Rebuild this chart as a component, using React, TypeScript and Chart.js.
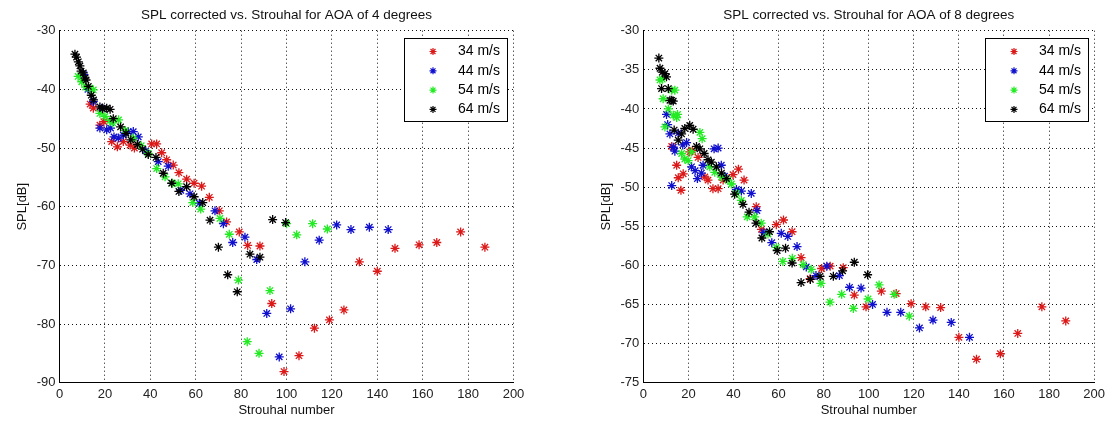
import React, { useEffect, useRef } from 'react';
import { Chart, registerables } from 'chart.js';

Chart.register(...registerables);

// ---------- labels ----------
const seriesLabels = ['34 m/s', '44 m/s', '54 m/s', '64 m/s'];
const seriesColors = ['rgb(220,25,25)', 'rgb(15,15,205)', 'rgb(35,235,35)', 'rgb(0,0,0)'];
const xLabel = 'Strouhal number';
const yLabel = 'SPL[dB]';
const title4 = 'SPL corrected vs. Strouhal for AOA of 4 degrees';
const title8 = 'SPL corrected vs. Strouhal for AOA of 8 degrees';

// ---------- AOA 4 degrees ----------
const a4_34x = [13.5, 14.9, 17.8, 19.5, 23, 25.5, 28.1, 31.1, 33, 40.6, 42.8, 45, 47.2, 50.1, 52.6, 56, 59.3, 62.6, 66, 70.4, 73.6, 79.2, 82.9, 88.3, 93.5, 98.9, 105.5, 112.3, 118.9, 125.3, 132.1, 140, 147.8, 158.4, 166.2, 176.7, 187.4];
const a4_34y = [-42.5, -43.2, -46.1, -45.5, -48.9, -49.8, -48.9, -49.5, -50, -49.3, -49.3, -50.8, -52, -52.9, -54.2, -55.3, -56, -56.5, -58.4, -60.7, -62.6, -64.3, -66.6, -66.7, -76.5, -88.1, -85.4, -80.7, -79.3, -77.6, -69.4, -71, -67.1, -66.5, -66.1, -64.3, -66.9];

const a4_44x = [10.8, 12.5, 14.9, 17.8, 18.6, 20.8, 22.5, 24, 25.9, 28.1, 30.3, 32.5, 34.7, 38, 43.5, 47.9, 53.4, 57.5, 61.6, 68.5, 72.2, 76.3, 81.7, 86.9, 91.3, 96.8, 101.8, 108.1, 114.4, 122.1, 128.4, 136.5, 144.8];
const a4_44y = [-37.5, -40, -42.1, -46.6, -43.2, -46.9, -46.6, -48.1, -48.3, -47.8, -47.2, -47.2, -48.1, -50.5, -52.3, -53.1, -57.2, -57.8, -59.4, -60.7, -62.9, -66.1, -65.2, -69, -78.2, -85.6, -77.4, -69.4, -65.7, -63.1, -63.9, -63.5, -63.9];

const a4_54x = [8.2, 9.8, 11.5, 13.4, 14.9, 17.8, 20, 22.2, 23.4, 26, 29, 32.5, 36, 39.1, 42.8, 46.5, 49.8, 52.3, 58.7, 62.2, 70.7, 74.8, 78.8, 82.7, 87.9, 92.7, 100, 104.5, 111.5, 118];
const a4_54y = [-37.8, -38.7, -39.6, -39.8, -40.1, -44.1, -44.6, -45.3, -45.7, -45.2, -47, -48.3, -49.6, -50.9, -53.5, -54.9, -56, -56.1, -59.3, -60.4, -62, -64.7, -72.5, -83, -85, -74.3, -62.9, -64.8, -62.9, -63.8];

const a4_64x = [6.8, 7.5, 8.3, 9, 9.5, 10.5, 11.2, 11.7, 12.7, 14, 15, 17.8, 19, 20.8, 22.3, 23.7, 26.9, 29.3, 31.4, 34.3, 36.6, 39.1, 42.5, 45.7, 49.4, 52.6, 56, 59.3, 63.1, 66.3, 70, 74.1, 78.3, 83.9, 88.3, 93.9, 99.6];
const a4_64y = [-34, -34.5, -35.3, -36, -36.9, -37.2, -38.1, -38.4, -39.5, -41, -41.8, -43, -43.3, -43.2, -43.4, -45, -46.4, -47.5, -48.6, -49.4, -50.2, -51.1, -51.6, -54.3, -56, -57.4, -56.6, -58.3, -59.3, -62.3, -66.9, -71.6, -74.5, -68.1, -68.6, -62.2, -62.7];

// ---------- AOA 8 degrees ----------
const a8_34x = [12.6, 14.8, 15.5, 16.7, 17.7, 20.6, 21.8, 24.3, 27.3, 28.7, 30.9, 33.2, 35.4, 39.8, 42.2, 44.7, 50.1, 52.4, 59, 62.2, 66, 70, 74, 79.1, 82.9, 88.7, 93.6, 98.8, 105.6, 112.2, 118.8, 125.3, 131.9, 140, 147.8, 158.4, 166.1, 176.8, 187.4];
const a8_34y = [-44.8, -47.2, -48.8, -50.4, -48.3, -45.5, -45.3, -46.2, -48.7, -49.1, -50.2, -50.2, -49.1, -48.4, -47.7, -49.1, -52.5, -55.4, -54.8, -54.2, -55.7, -59, -61.7, -60.4, -60.1, -60.3, -63.8, -65.3, -63.3, -63.6, -64.9, -65.3, -65.4, -69.2, -72, -71.3, -68.7, -65.3, -67.1];

const a8_44x = [10.3, 10.8, 11.8, 12.6, 13.3, 14, 15.5, 17.5, 19.2, 21.4, 23, 24, 25.8, 26.5, 31.4, 33.2, 34.6, 36, 41.3, 43.5, 47.9, 50.4, 53.5, 57, 61.2, 64.1, 68.2, 72.3, 76.6, 81.4, 87, 91.5, 96.6, 101.7, 108.1, 114.2, 122.5, 128.5, 136.6, 144.7];
const a8_44y = [-40.7, -42, -43.2, -49.8, -44.9, -45.4, -43.1, -44.6, -44.3, -47.4, -47.9, -48.9, -48.2, -47.2, -45.1, -45, -47.2, -48.6, -50.3, -50.5, -50.8, -53, -55.8, -57.1, -55.9, -56.3, -57.6, -60.2, -61.3, -60.1, -61.3, -62.8, -62.9, -65, -66, -66, -68, -67, -67.3, -69.2];

const a8_54x = [7.4, 8.4, 8.8, 9.6, 11.1, 12.6, 13.3, 14, 14.8, 15.2, 17, 18.4, 19.9, 21.4, 25.1, 26.1, 29.5, 31.7, 34.7, 37.6, 39.1, 41.3, 43.5, 46.1, 49.4, 52.3, 55.3, 59, 61.9, 66.1, 70.9, 74.5, 78.8, 82.8, 88, 93.2, 99.7, 104.6, 111.3, 118];
const a8_54y = [-36.3, -36.2, -38.7, -42.3, -40, -37.6, -40.8, -37.6, -41.1, -40.7, -45.7, -46.4, -46.6, -45.5, -43, -43.8, -47.4, -48.1, -48.7, -49.1, -49.6, -50.8, -51.7, -53.8, -53.8, -54.6, -56, -57.7, -59.5, -59.1, -59.9, -60.5, -62.3, -64.7, -63.7, -65.5, -64.3, -62.5, -63.7, -66.5];

const a8_64x = [6.9, 7.4, 8.1, 8.4, 9.6, 10.3, 11.1, 11.8, 12.6, 13.3, 13.7, 15.5, 17, 18.4, 20.6, 22.1, 23.6, 25.1, 27, 28.7, 30.2, 32.4, 34.7, 36.9, 40.5, 44.2, 46.9, 50, 52.6, 56, 59.4, 63.1, 66, 70, 74.1, 78.4, 84.3, 88.4, 93.6, 99.5];
const a8_64y = [-33.5, -34.8, -37.4, -35.3, -35.5, -35.9, -37.4, -38.9, -38.9, -39, -42.7, -44, -43.2, -42.5, -42.1, -42.6, -44.8, -45.1, -45.7, -46.5, -46.8, -47.4, -48.2, -48.9, -50.9, -52.2, -53.2, -54.6, -56.5, -55.7, -58.1, -57.8, -59.7, -62.2, -61.8, -61.4, -61.4, -60.7, -59.6, -61.2];

const xMin = 0, xMax = 200, xStep = 20;
const y4Min = -90, y4Max = -30, y4Step = 10;
const y8Min = -75, y8Max = -30, y8Step = 5;

const FONT = '"Liberation Sans", Arial, sans-serif';

const zip = (xs: number[], ys: number[]) => xs.map((x, i) => ({ x, y: ys[i] }));

function drawStar(ctx: CanvasRenderingContext2D, x: number, y: number, r: number, color: string) {
  ctx.save();
  ctx.strokeStyle = color;
  ctx.lineWidth = 1.2;
  ctx.beginPath();
  ctx.moveTo(x - r, y); ctx.lineTo(x + r, y);
  ctx.moveTo(x, y - r); ctx.lineTo(x, y + r);
  const d = r * 0.7071;
  ctx.moveTo(x - d, y - d); ctx.lineTo(x + d, y + d);
  ctx.moveTo(x - d, y + d); ctx.lineTo(x + d, y - d);
  ctx.stroke();
  ctx.restore();
}

const boxLegend = {
  id: 'boxLegend',
  afterDatasetsDraw(chart: any) {
    const { ctx, chartArea } = chart;
    const w = 103, h = 83;
    const x0 = Math.round(chartArea.right - 6.5 - w);
    const y0 = Math.round(chartArea.top + 7.3);
    ctx.save();
    ctx.fillStyle = '#fff';
    ctx.fillRect(x0, y0, w, h);
    ctx.strokeStyle = '#000';
    ctx.lineWidth = 1;
    ctx.strokeRect(x0 + 0.5, y0 + 0.5, w, h);
    ctx.font = `14px ${FONT}`;
    ctx.textAlign = 'right';
    ctx.textBaseline = 'middle';
    chart.data.datasets.forEach((ds: any, i: number) => {
      const cy = y0 + 13.5 + i * 19.3;
      drawStar(ctx, x0 + 29, cy, 3.5, ds.borderColor);
      ctx.fillStyle = '#000';
      ctx.fillText(ds.label, x0 + w - 7, cy);
    });
    ctx.restore();
  },
};

const whiteBg = {
  id: 'whiteBg',
  beforeDraw(chart: any) {
    const { ctx, width, height } = chart;
    ctx.save();
    ctx.fillStyle = '#fff';
    ctx.fillRect(0, 0, width, height);
    ctx.restore();
  },
};

type PanelProps = {
  width: number;
  title: string;
  series: { x: number; y: number }[][];
  yMin: number;
  yMax: number;
  yStep: number;
  padLeft: number;
  padRight: number;
};

function Panel({ width, title, series, yMin, yMax, yStep, padLeft, padRight }: PanelProps) {
  const ref = useRef<HTMLCanvasElement>(null);
  useEffect(() => {
    if (!ref.current) return;
    const chart = new Chart(ref.current, {
      type: 'scatter',
      data: {
        datasets: series.map((pts, i) => ({
          label: seriesLabels[i],
          data: pts,
          borderColor: seriesColors[i],
          backgroundColor: seriesColors[i],
          pointStyle: 'star',
          pointRadius: 4.5,
          pointBorderWidth: 1.3,
          showLine: false,
          order: series.length - i,
        })),
      },
      options: {
        responsive: false,
        devicePixelRatio: 1,
        animation: false,
        events: [],
        layout: { padding: { left: padLeft, right: padRight, top: 0, bottom: 0 } },
        plugins: {
          legend: { display: false },
          tooltip: { enabled: false },
          title: {
            display: true,
            text: title,
            fullSize: false,
            color: '#111',
            font: { family: FONT, size: 13.5, weight: 'normal', lineHeight: 1.2 },
            padding: { top: 7, bottom: 7.5 },
          },
        },
        scales: {
          x: {
            type: 'linear',
            min: xMin,
            max: xMax,
            afterFit: (s: any) => { s.height = 41.3; },
            ticks: { stepSize: xStep, color: '#222', font: { family: FONT, size: 13 }, padding: 4, maxRotation: 0 },
            grid: { color: '#111', lineWidth: 1, drawTicks: false },
            border: { display: true, color: '#000', width: 1, dash: [1, 3] },
            title: { display: true, text: xLabel, color: '#111', font: { family: FONT, size: 13 }, padding: { top: 0, bottom: 5.8 } },
          },
          y: {
            type: 'linear',
            min: yMin,
            max: yMax,
            afterFit: (s: any) => { s.width = 59.5; },
            ticks: { stepSize: yStep, color: '#222', font: { family: FONT, size: 13 }, padding: 4 },
            grid: { color: '#111', lineWidth: 1, drawTicks: false },
            border: { display: true, color: '#000', width: 1, dash: [1, 3] },
            title: { display: true, text: yLabel, color: '#111', font: { family: FONT, size: 13 }, padding: { top: 14.5, bottom: 0 } },
          },
        },
      },
      plugins: [whiteBg, boxLegend],
    } as any);
    return () => chart.destroy();
  }, []);
  return <canvas ref={ref} width={width} height={424} style={{ display: 'block', width, height: 424 }} />;
}

export default function App() {
  const s4 = [zip(a4_34x, a4_34y), zip(a4_44x, a4_44y), zip(a4_54x, a4_54y), zip(a4_64x, a4_64y)];
  const s8 = [zip(a8_34x, a8_34y), zip(a8_44x, a8_44y), zip(a8_54x, a8_54y), zip(a8_64x, a8_64y)];
  return (
    <div style={{ position: 'fixed', left: 0, top: 0, width: 1109, height: 424, background: '#fff', overflow: 'hidden' }}>
      <div style={{ position: 'absolute', left: 0, top: 0 }}>
        <Panel width={555} title={title4} series={s4} yMin={y4Min} yMax={y4Max} yStep={y4Step} padLeft={0} padRight={41.5} />
      </div>
      <div style={{ position: 'absolute', left: 555, top: 0 }}>
        <Panel width={554} title={title8} series={s8} yMin={y8Min} yMax={y8Max} yStep={y8Step} padLeft={28.8} padRight={13.3} />
      </div>
    </div>
  );
}
